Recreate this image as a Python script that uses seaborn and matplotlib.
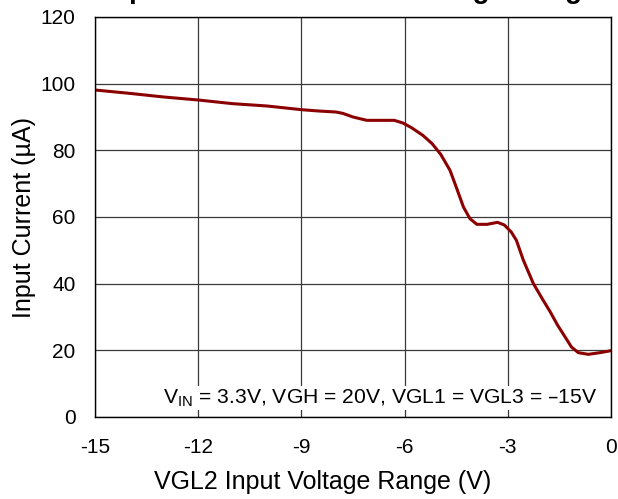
import matplotlib
matplotlib.use("Agg")
import matplotlib.pyplot as plt
import pandas as pd
import seaborn as sns

voltage = [-15, -14, -13, -12, -11, -10, -9, -8.5, -8, -7.8, -7.5, -7.1, -6.7, -6.3,
           -6.05, -5.8, -5.47, -5.2, -4.95, -4.68, -4.5, -4.29, -4.1, -3.9, -3.6,
           -3.3, -3.1, -2.9, -2.75, -2.55, -2.26, -2.0, -1.77, -1.55, -1.34, -1.15,
           -0.95, -0.66, -0.32, 0]
current = [98.1, 97.1, 96.0, 95.1, 94.0, 93.3, 92.2, 91.8, 91.5, 91.1, 90.0, 89.0,
           89.0, 89.0, 88.2, 86.8, 84.5, 82.0, 78.8, 74.0, 69.0, 63.0, 59.5, 57.8,
           57.8, 58.4, 57.6, 55.5, 53.0, 47.1, 40.1, 35.5, 31.6, 27.5, 24.1, 21.0,
           19.3, 18.8, 19.3, 19.9]
x_ticks = [-15, -12, -9, -6, -3, 0]
y_ticks = [0, 20, 40, 60, 80, 100, 120]

df = pd.DataFrame({"V": voltage, "I": current})

sns.set_style("white")
plt.rcParams["font.family"] = ["Liberation Sans", "DejaVu Sans"]
plt.rcParams["axes.unicode_minus"] = False
plt.rcParams["text.color"] = "black"
plt.rcParams["axes.labelcolor"] = "black"

fig = plt.figure(figsize=(6.18, 4.99), dpi=100)
ax = fig.add_axes([95 / 618, 1 - 417 / 499, 516 / 618, 400 / 499])

sns.lineplot(data=df, x="V", y="I", color="#8b0000", linewidth=2.2, ax=ax)

ax.set_xlim(-15, 0)
ax.set_ylim(0, 120)
ax.set_xticks(x_ticks)
ax.set_yticks(y_ticks)
ax.grid(True, color="#3a3a3a", linewidth=0.9)
for s in ax.spines.values():
    s.set_color("black")
    s.set_linewidth(1)
ax.tick_params(axis="both", direction="in", length=4, color="black",
               labelsize=15, labelcolor="black")
ax.tick_params(axis="x", pad=15)
ax.tick_params(axis="y", pad=14)
ax.set_xlabel("VGL2 Input Voltage Range (V)", fontsize=18)
ax.xaxis.set_label_coords(0.442, -0.1325)
ax.set_ylabel("Input Current (µA)", fontsize=18, labelpad=3)

ax.text(1 - 14 / 516, 14 / 400,
        r"V$_{\mathregular{IN}}$ = 3.3V, VGH = 20V, VGL1 = VGL3 = –15V",
        transform=ax.transAxes, ha="right", va="baseline", fontsize=15.2,
        bbox=dict(facecolor="white", edgecolor="none", pad=1))

fig.text(24 / 618, 1.004, "VGL2 Input Current vs VGL2 Voltage Range",
         ha="left", va="baseline", fontsize=20, fontweight="bold")

fig.savefig("out.png", dpi=100)
